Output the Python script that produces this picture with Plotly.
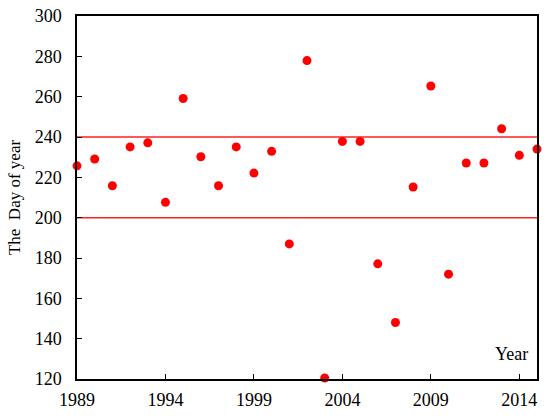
import plotly.graph_objects as go

years = list(range(1989, 2016))
day_of_year = [225.7, 229.1, 215.8, 235.1, 237.1, 207.6, 259.1, 230.2, 215.8, 235.1,
               222.1, 232.9, 187.0, 277.9, 120.5, 237.8, 237.8, 177.1, 148.0, 215.2,
               265.3, 172.0, 227.1, 227.1, 244.1, 230.9, 234.0]
ref_lines = [240, 200]
x_ticks = [1989, 1994, 1999, 2004, 2009, 2014]
y_ticks = [120, 140, 160, 180, 200, 220, 240, 260, 280, 300]
x_range = [1989, 2015]
y_range = [120, 300]

font = dict(family="Liberation Serif, Times New Roman, serif", size=18, color="black")
title_font = dict(family="Liberation Serif, Times New Roman, serif", size=17, color="black")

fig = go.Figure()
for v in ref_lines:
    fig.add_trace(go.Scatter(x=x_range, y=[v, v], mode="lines",
                             line=dict(color="#ff2020", width=1.5),
                             showlegend=False, hoverinfo="skip"))
fig.add_trace(go.Scatter(x=years, y=day_of_year, mode="markers",
                         marker=dict(color="#ff0000", size=9),
                         cliponaxis=False, showlegend=False))

fig.update_layout(
    width=550, height=418,
    margin=dict(l=77, r=13, t=16, b=39),
    paper_bgcolor="white", plot_bgcolor="white",
    font=font,
    xaxis=dict(range=x_range, tickvals=x_ticks, ticks="inside", ticklen=5,
               tickcolor="black", showline=True, linecolor="black", linewidth=1.5,
               mirror=True, showgrid=False, zeroline=False, tickfont=font,
               ticklabelstandoff=4, automargin=False),
    yaxis=dict(range=y_range, tickvals=y_ticks, ticks="inside", ticklen=5,
               tickcolor="black", showline=True, linecolor="black", linewidth=1.5,
               mirror=True, showgrid=False, zeroline=False, tickfont=font,
               ticklabelstandoff=10, automargin=False,
               title=dict(text="The  Day of year", font=title_font, standoff=10)),
    annotations=[dict(text="Year", x=0.985, y=0.07, xref="paper", yref="paper",
                      xanchor="right", yanchor="middle", showarrow=False, font=font)],
)

fig.write_html("out.html", config={"displayModeBar": False},
               post_script="document.body.style.margin='0';")
